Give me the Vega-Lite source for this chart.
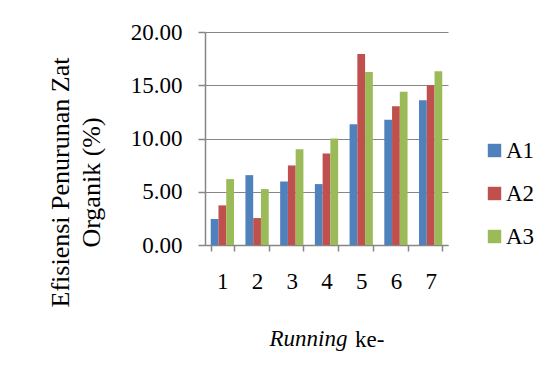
{
  "$schema": "https://vega.github.io/schema/vega-lite/v6.json",
  "width": 243,
  "height": 213,
  "autosize": {"type": "none"},
  "padding": {"left": 205, "top": 32, "right": 103, "bottom": 127},
  "background": "white",
  "title": {"text": "ke-", "orient": "bottom", "anchor": "start", "frame": "group", "dx": 150, "dy": -3, "offset": 0, "font": "Liberation Serif", "fontSize": 23, "fontWeight": "normal", "color": "black", "baseline": "alphabetic"},
  "data": {"values": [
    {"run": "1", "grp": "A1", "v": 2.44}, {"run": "1", "grp": "A2", "v": 3.72}, {"run": "1", "grp": "A3", "v": 6.19},
    {"run": "2", "grp": "A1", "v": 6.56}, {"run": "2", "grp": "A2", "v": 2.53}, {"run": "2", "grp": "A3", "v": 5.25},
    {"run": "3", "grp": "A1", "v": 5.97}, {"run": "3", "grp": "A2", "v": 7.47}, {"run": "3", "grp": "A3", "v": 9.0},
    {"run": "4", "grp": "A1", "v": 5.72}, {"run": "4", "grp": "A2", "v": 8.59}, {"run": "4", "grp": "A3", "v": 10.0},
    {"run": "5", "grp": "A1", "v": 11.34}, {"run": "5", "grp": "A2", "v": 17.94}, {"run": "5", "grp": "A3", "v": 16.25},
    {"run": "6", "grp": "A1", "v": 11.75}, {"run": "6", "grp": "A2", "v": 13.03}, {"run": "6", "grp": "A3", "v": 14.38},
    {"run": "7", "grp": "A1", "v": 13.59}, {"run": "7", "grp": "A2", "v": 15.0}, {"run": "7", "grp": "A3", "v": 16.31}
  ]},
  "mark": {"type": "bar"},
  "encoding": {
    "x": {"field": "run", "type": "nominal", "scale": {"paddingInner": 0.33, "paddingOuter": 0.165},
      "axis": {"labelAngle": 0, "tickBand": "extent", "grid": false, "tickSize": 6, "tickColor": "#868686", "domainColor": "#868686", "domainWidth": 1.5, "tickWidth": 1.5,
        "labelFont": "Liberation Serif", "labelFontSize": 23, "labelColor": "black", "labelPadding": 19,
        "title": "Running", "titleFont": "Liberation Serif", "titleFontSize": 23, "titleFontStyle": "italic", "titleFontWeight": "normal", "titleColor": "black",
        "titleX": 103, "titleY": 100, "titleAlign": "center", "titleBaseline": "alphabetic"}},
    "xOffset": {"field": "grp", "type": "nominal", "scale": {"paddingInner": 0, "paddingOuter": 0}},
    "y": {"field": "v", "type": "quantitative", "scale": {"domain": [0, 20], "nice": false},
      "axis": {"values": [0, 5, 10, 15, 20], "format": ".2f", "grid": true, "gridColor": "#868686", "gridWidth": 1, "tickSize": 7, "tickColor": "#868686", "tickWidth": 1.5, "domainColor": "#868686", "domainWidth": 1.5,
        "labelFont": "Liberation Serif", "labelFontSize": 23, "labelColor": "black", "labelPadding": 16,
        "title": ["Efisiensi Penurunan Zat", "Organik (%)"], "titleFont": "Liberation Serif", "titleFontSize": 26, "titleFontWeight": "normal", "titleColor": "black",
        "titleAngle": 270, "titleX": -145, "titleY": 150, "titleAlign": "center", "titleBaseline": "middle", "titleLineHeight": 31}},
    "color": {"field": "grp", "type": "nominal", "scale": {"domain": ["A1", "A2", "A3"], "range": ["#4F81BD", "#C0504D", "#9BBB59"]},
      "legend": {"title": null, "orient": "none", "legendX": 278, "legendY": 107, "symbolType": "square", "symbolSize": 180, "symbolStrokeWidth": 0, "symbolOpacity": 1,
        "labelFont": "Liberation Serif", "labelFontSize": 23, "labelColor": "black", "labelOffset": 0, "rowPadding": 19}}
  },
  "config": {"view": {"stroke": null}}
}
